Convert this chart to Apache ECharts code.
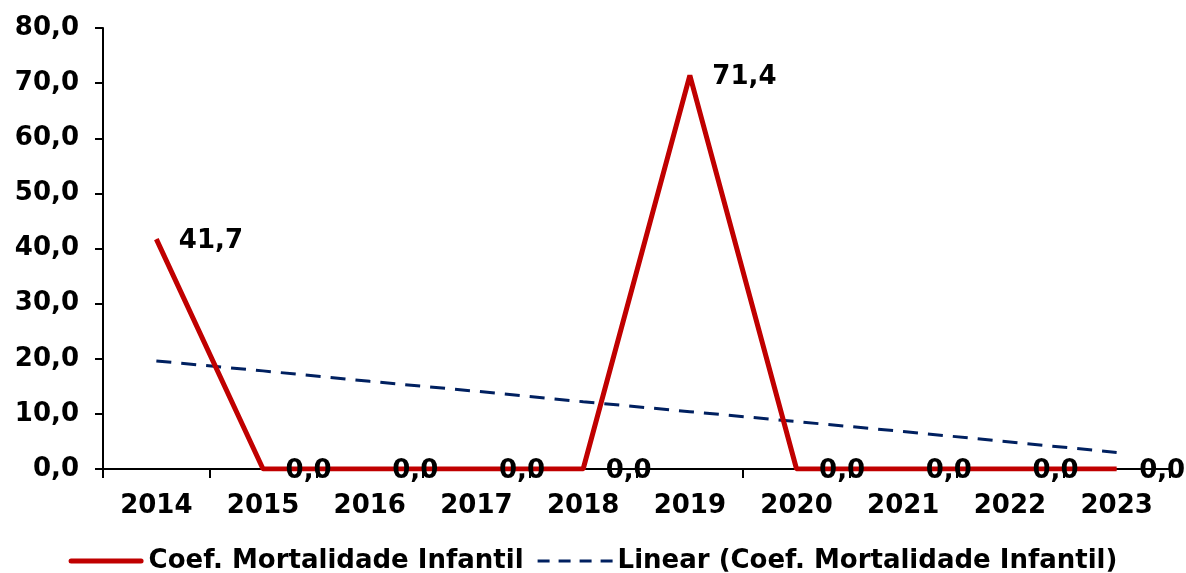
<!DOCTYPE html>
<html><head><meta charset="utf-8">
<script src="https://cdn.jsdelivr.net/npm/echarts@6/dist/echarts.min.js"></script>
<style>html,body{margin:0;padding:0;background:#fff}#c{width:1186px;height:573px}</style>
</head><body><div id="c"></div>
<script>
var categories = ['2014','2015','2016','2017','2018','2019','2020','2021','2022','2023'];
var mortalidade = [41.7, 0, 0, 0, 0, 71.4, 0, 0, 0, 0];
var tendencia = [19.6, 17.8, 15.9, 14.1, 12.2, 10.4, 8.6, 6.8, 4.9, 3.0];
var yTicks = [0, 10, 20, 30, 40, 50, 60, 70, 80];
var serieNome = 'Coef. Mortalidade Infantil';
var trendNome = 'Linear (Coef. Mortalidade Infantil)';

var font = 'DejaVu Sans';
var fs = 26;
function fmt(v){ return v.toFixed(1).replace('.', ','); }
var chart = echarts.init(document.getElementById('c'));
chart.setOption({
  animation: false,
  grid: {left: 103, right: 16, top: 28, bottom: 104},
  legend: {
    top: 548, left: 'center', itemWidth: 75, itemHeight: 14, itemGap: 14, padding: 0,
    textStyle: {fontFamily: font, fontWeight: 'bold', fontSize: fs, color: '#000'},
    data: [
      {name: serieNome, icon: 'path://M2.5,4.5 L72.5,4.5 A2.5,2.5 0 0 1 72.5,9.5 L2.5,9.5 A2.5,2.5 0 0 1 2.5,4.5 Z'},
      {name: trendNome, icon: 'path://M0,5.5 L12,5.5 L12,8.5 L0,8.5 Z M21,5.5 L33,5.5 L33,8.5 L21,8.5 Z M42,5.5 L54,5.5 L54,8.5 L42,8.5 Z M63,5.5 L75,5.5 L75,8.5 L63,8.5 Z'}
    ]
  },
  xAxis: {
    type: 'category', data: categories, boundaryGap: true,
    axisLine: {lineStyle: {color: '#000', width: 2}},
    axisTick: {show: true, length: 9, lineStyle: {color: '#000', width: 2}},
    axisLabel: {fontFamily: font, fontWeight: 'bold', fontSize: fs, color: '#000', margin: 24}
  },
  yAxis: {
    type: 'value', min: yTicks[0], max: yTicks[yTicks.length-1], interval: 10,
    splitLine: {show: false},
    axisLine: {show: true, lineStyle: {color: '#000', width: 2}},
    axisTick: {show: true, length: 8, lineStyle: {color: '#000', width: 2}},
    axisLabel: {fontFamily: font, fontWeight: 'bold', fontSize: fs, color: '#000', margin: 24,
      formatter: function(v){ return fmt(v); }}
  },
  series: [
    {
      name: serieNome, type: 'line', data: mortalidade, symbol: 'circle', symbolSize: 1, showSymbol: true, z: 3,
      lineStyle: {color: '#C00000', width: 5},
      itemStyle: {color: '#C00000'},
      label: {show: true, position: 'right', distance: 22, fontFamily: font, fontWeight: 'bold',
        fontSize: fs, color: '#000', offset: [0, 2], formatter: function(p){ return fmt(p.value); }}
    },
    {
      name: trendNome, type: 'line', data: tendencia, symbol: 'none', z: 2,
      lineStyle: {color: '#002060', width: 3, type: [15, 10]},
      itemStyle: {color: '#002060'}
    }
  ]
});
</script></body></html>
